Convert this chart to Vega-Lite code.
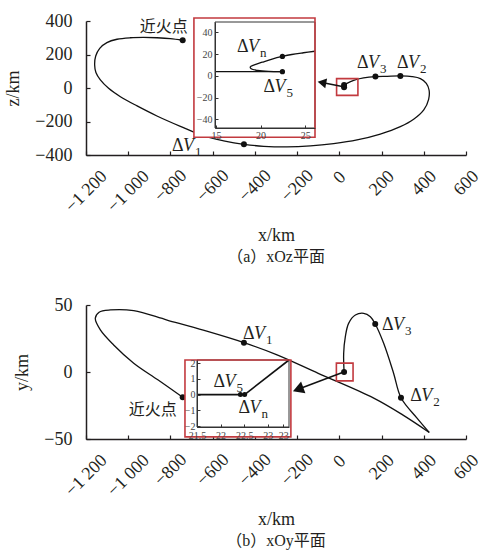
{
  "$schema": "https://vega.github.io/schema/vega-lite/v6.json",
  "padding": {"left": 4, "top": 12, "right": 2, "bottom": 2},
  "background": "white",
  "config": {"view": {"stroke": null}, "font": "Liberation Serif", "axis": {"grid": false}},
  "spacing": 31,
  "datasets": {
    "a_path": [
      {"i":1,"x":-742,"v":285},{"i":2,"x":-801,"v":295},{"i":3,"x":-864,"v":300},{"i":4,"x":-927,"v":302},
      {"i":5,"x":-990,"v":300},{"i":6,"x":-1053,"v":291},{"i":7,"x":-1101,"v":271},{"i":8,"x":-1135,"v":237},
      {"i":9,"x":-1154,"v":191},{"i":10,"x":-1159,"v":137},{"i":11,"x":-1153,"v":92},{"i":12,"x":-1132,"v":48},
      {"i":13,"x":-1093,"v":-2},{"i":14,"x":-1037,"v":-52},{"i":15,"x":-958,"v":-107},{"i":16,"x":-864,"v":-167},
      {"i":17,"x":-753,"v":-229},{"i":18,"x":-643,"v":-286},{"i":19,"x":-548,"v":-315},{"i":20,"x":-452,"v":-336},
      {"i":21,"x":-358,"v":-348},{"i":22,"x":-248,"v":-352},{"i":23,"x":-137,"v":-346},{"i":24,"x":-27,"v":-332},
      {"i":25,"x":84,"v":-310},{"i":26,"x":194,"v":-275},{"i":27,"x":289,"v":-231},{"i":28,"x":352,"v":-187},
      {"i":29,"x":400,"v":-131},{"i":30,"x":423,"v":-68},{"i":31,"x":425,"v":-12},{"i":32,"x":412,"v":28},
      {"i":33,"x":384,"v":56},{"i":34,"x":344,"v":68},{"i":35,"x":289,"v":72},{"i":36,"x":226,"v":70},
      {"i":37,"x":171,"v":68},{"i":38,"x":115,"v":60},{"i":39,"x":68,"v":46},{"i":40,"x":36,"v":28},
      {"i":41,"x":22.5,"v":17.5}
    ],
    "a_pts": [
      {"x":-742,"v":285},{"x":-452,"v":-336},{"x":289,"v":72},{"x":171,"v":68},{"x":22.5,"v":17.5},{"x":22.5,"v":4}
    ],
    "a_lab": [
      {"x":-793,"v":-374,"s":"1"},{"x":273,"v":117.6,"s":"2"},{"x":83.7,"v":117.6,"s":"3"}
    ],
    "a_cn": [{"x":-832,"v":364,"t":"近火点"}],
    "a_box": [{"x":-13,"x2":88,"v":-44,"v2":56}],
    "a_arrow": [{"x":20,"v":8,"x2":-82.5,"v2":32.2}],
    "a_ibox": [{"x":12.54,"x2":26.1,"v":-56.5,"v2":53.2}],
    "a_iframe": [{"x":14.9,"x2":26.1,"v":-48,"v2":49.5}],
    "a_ipath": [
      {"seg":"c","i":1,"x":26.08,"v":22.6},{"seg":"c","i":2,"x":24.8,"v":21.2},{"seg":"c","i":3,"x":23.5,"v":19.6},
      {"seg":"c","i":4,"x":22.45,"v":17.8},{"seg":"c","i":5,"x":21.3,"v":15.4},{"seg":"c","i":6,"x":20.2,"v":12.5},
      {"seg":"c","i":7,"x":19.3,"v":10},{"seg":"c","i":8,"x":18.85,"v":8.2},{"seg":"c","i":9,"x":18.95,"v":6.5},
      {"seg":"c","i":10,"x":19.7,"v":4.9},{"seg":"c","i":11,"x":20.9,"v":4.0},{"seg":"c","i":12,"x":22.45,"v":3.8},
      {"seg":"h","i":13,"x":14.9,"v":3.8},{"seg":"h","i":14,"x":22.45,"v":3.8}
    ],
    "a_ipts": [{"x":22.45,"v":17.8},{"x":22.45,"v":3.8}],
    "a_ilab": [{"x":17.35,"v":22.1,"s":"n"},{"x":20.34,"v":-15.3,"s":"5"}],
    "b_path": [
      {"seg":"p","i":1,"x":-742,"v":-18.8},{"seg":"p","i":2,"x":-858,"v":-6},{"seg":"p","i":3,"x":-974,"v":6.6},
      {"seg":"p","i":4,"x":-1069,"v":20.2},{"seg":"p","i":5,"x":-1132,"v":31.4},{"seg":"p","i":6,"x":-1156,"v":40.1},
      {"seg":"p","i":7,"x":-1138,"v":44.6},{"seg":"p","i":8,"x":-1085,"v":46.3},{"seg":"p","i":9,"x":-974,"v":45.8},
      {"seg":"p","i":10,"x":-816,"v":38.8},{"seg":"p","i":11,"x":-640,"v":31},{"seg":"p","i":12,"x":-452,"v":21.9},
      {"seg":"p","i":13,"x":-295,"v":12.8},{"seg":"p","i":14,"x":-100,"v":-1},{"seg":"p","i":15,"x":163,"v":-19.5},
      {"seg":"p","i":16,"x":300,"v":-32},{"seg":"p","i":17,"x":426,"v":-45.1},
      {"seg":"q","i":18,"x":426,"v":-45.1},{"seg":"q","i":19,"x":368,"v":-34.4},{"seg":"q","i":20,"x":292,"v":-19.2},
      {"seg":"q","i":21,"x":257,"v":-0.9},{"seg":"q","i":22,"x":210,"v":21.4},{"seg":"q","i":23,"x":170,"v":35.8},
      {"seg":"q","i":24,"x":147,"v":41.3},{"seg":"q","i":25,"x":115,"v":43.8},{"seg":"q","i":26,"x":76,"v":42.5},
      {"seg":"q","i":27,"x":44,"v":36.3},{"seg":"q","i":28,"x":28.5,"v":26.4},{"seg":"q","i":29,"x":20.6,"v":14},
      {"seg":"q","i":30,"x":22.5,"v":0}
    ],
    "b_pts": [
      {"x":-742,"v":-18.8},{"x":-452,"v":21.9},{"x":292,"v":-19.2},{"x":170,"v":35.8},{"x":22.5,"v":0}
    ],
    "b_lab": [
      {"x":-456,"v":24.5,"s":"1"},{"x":336,"v":-21.3,"s":"2"},{"x":202,"v":31.4,"s":"3"}
    ],
    "b_cn": [{"x":-884,"v":-28.2,"t":"近火点"}],
    "b_box": [{"x":-14,"x2":65,"v":-6.6,"v2":6.6}],
    "b_arrow": [{"x":21,"v":0,"x2":-195.3,"v2":-12.9}],
    "b_ibox": [{"x":21.245,"x2":23.49,"v":-2.69,"v2":2.2}],
    "b_iframe": [{"x":21.5,"x2":23.45,"v":-2.06,"v2":2.2}],
    "b_ipath": [
      {"seg":"h","i":1,"x":21.5,"v":0},{"seg":"h","i":2,"x":22.51,"v":0},
      {"seg":"l","i":3,"x":22.51,"v":0},{"seg":"l","i":4,"x":23.45,"v":2.2}
    ],
    "b_ipts": [{"x":22.42,"v":0},{"x":22.51,"v":0}],
    "b_ilab": [{"x":21.85,"v":0.47,"s":"5"},{"x":22.38,"v":-1.2,"s":"n"}]
  },
  "vconcat": [
    {
      "width": 380, "height": 134,
      "title": {"text": "（a）xOz平面", "orient": "bottom", "offset": 4, "fontSize": 16, "font": "Liberation Serif, Noto Sans CJK SC", "fontWeight": "normal", "color": "#231f20", "anchor": "middle"},
      "resolve": {"scale": {"x": "independent", "y": "independent"}},
      "layer": [
        {
          "encoding": {
            "x": {"field": "x", "type": "quantitative", "scale": {"domain": [-1200, 600], "nice": false, "zero": false},
              "axis": {"orient": "bottom", "values": [-1200,-1000,-800,-600,-400,-200,0,200,400,600],
                "labelExpr": "replace(format(datum.value, ','), ',', ' ')",
                "labelAngle": -45, "labelAlign": "center", "labelBaseline": "middle",
                "labelFlush": false, "labelOverlap": false, "labelBound": false,
                "labelFontSize": 18, "labelColor": "#231f20", "labelFont": "Liberation Serif",
                "tickSize": -4, "tickColor": "#231f20", "tickWidth": 1.2, "domainColor": "#231f20", "domainWidth": 1.5,
                "title": "x/km", "titleFontSize": 18, "titleFont": "Liberation Serif", "titleFontWeight": "normal", "titleColor": "#231f20", "titlePadding": 11,
                "encoding": {"labels": {"y": {"value": {"expr": "19.5 + 2.8*length(datum.label)"}}}}}},
            "y": {"field": "v", "type": "quantitative", "scale": {"domain": [-400, 400], "nice": false, "zero": false},
              "axis": {"orient": "left", "values": [-400,-200,0,200,400], "labelFlush": false, "labelOverlap": false,
                "labelFontSize": 18, "labelColor": "#231f20", "labelFont": "Liberation Serif", "labelPadding": 18,
                "tickSize": -4, "tickColor": "#231f20", "tickWidth": 1.2, "domainColor": "#231f20", "domainWidth": 1.5,
                "title": "z/km", "titleFontSize": 18, "titleFont": "Liberation Serif", "titleFontWeight": "normal", "titleColor": "#231f20", "titlePadding": 12}}
          },
          "layer": [
            {"data": {"name": "a_path"}, "mark": {"type": "line", "interpolate": "catmull-rom", "color": "#111111", "strokeWidth": 1.3}, "encoding": {"order": {"field": "i", "type": "quantitative"}}},
            {"data": {"name": "a_box"}, "mark": {"type": "rect", "fillOpacity": 0, "stroke": "#c23a3f", "strokeWidth": 1.6}, "encoding": {"x2": {"field": "x2"}, "y2": {"field": "v2"}}},
            {"data": {"name": "a_arrow"}, "mark": {"type": "rule", "color": "#111111", "strokeWidth": 1.5}, "encoding": {"x2": {"field": "x2"}, "y2": {"field": "v2"}}},
            {"data": {"name": "a_arrow"}, "mark": {"type": "point", "shape": "triangle-left", "filled": true, "color": "#111111", "size": 100, "angle": 10.6, "opacity": 1}, "encoding": {"x": {"field": "x2", "type": "quantitative"}, "y": {"field": "v2", "type": "quantitative"}}},
            {"data": {"name": "a_pts"}, "mark": {"type": "point", "filled": true, "color": "#111111", "size": 36, "opacity": 1}},
            {"data": {"name": "a_lab"}, "mark": {"type": "text", "text": "Δ", "align": "left", "baseline": "alphabetic", "fontSize": 18, "color": "#231f20"}},
            {"data": {"name": "a_lab"}, "mark": {"type": "text", "text": "V", "align": "left", "baseline": "alphabetic", "fontSize": 18, "fontStyle": "italic", "dx": 11, "color": "#231f20"}},
            {"data": {"name": "a_lab"}, "mark": {"type": "text", "align": "left", "baseline": "alphabetic", "fontSize": 13, "dx": 23, "dy": 5, "color": "#231f20"}, "encoding": {"text": {"field": "s"}}},
            {"data": {"name": "a_cn"}, "mark": {"type": "text", "align": "center", "baseline": "middle", "fontSize": 16, "font": "Noto Sans CJK SC", "color": "#231f20"}, "encoding": {"text": {"field": "t"}}}
          ]
        },
        {
          "encoding": {
            "x": {"field": "x", "type": "quantitative", "scale": {"domain": [14.9, 26.1], "range": [129, 229], "nice": false, "zero": false},
              "axis": {"orient": "bottom", "offset": -27, "values": [15, 20, 25], "tickSize": -3, "labelPadding": 5, "labelFontSize": 10, "labelColor": "#444444", "labelFont": "Liberation Serif", "labelFlush": false, "labelOverlap": false, "domainColor": "#333333", "domainWidth": 1, "tickColor": "#333333", "title": null, "zindex": 1}},
            "y": {"field": "v", "type": "quantitative", "scale": {"domain": [-48, 49.5], "range": [107, 1], "nice": false, "zero": false},
              "axis": {"orient": "left", "offset": -129, "values": [-40, -20, 0, 20, 40], "tickSize": -3, "labelPadding": 6, "labelFontSize": 10, "labelColor": "#444444", "labelFont": "Liberation Serif", "labelFlush": false, "labelOverlap": false, "domainColor": "#333333", "domainWidth": 1, "tickColor": "#333333", "title": null, "zindex": 1}}
          },
          "layer": [
            {"data": {"name": "a_ibox"}, "mark": {"type": "rect", "fill": "white", "strokeWidth": 0}, "encoding": {"x2": {"field": "x2"}, "y2": {"field": "v2"}}},
            {"data": {"name": "a_iframe"}, "mark": {"type": "rect", "fillOpacity": 0, "stroke": "#333333", "strokeWidth": 1}, "encoding": {"x2": {"field": "x2"}, "y2": {"field": "v2"}}},
            {"data": {"name": "a_ipath"}, "mark": {"type": "line", "interpolate": "catmull-rom", "color": "#111111", "strokeWidth": 1.3}, "encoding": {"detail": {"field": "seg"}, "order": {"field": "i", "type": "quantitative"}}},
            {"data": {"name": "a_ipts"}, "mark": {"type": "point", "filled": true, "color": "#111111", "size": 28, "opacity": 1}},
            {"data": {"name": "a_ilab"}, "mark": {"type": "text", "text": "Δ", "align": "left", "baseline": "alphabetic", "fontSize": 18, "color": "#231f20"}},
            {"data": {"name": "a_ilab"}, "mark": {"type": "text", "text": "V", "align": "left", "baseline": "alphabetic", "fontSize": 18, "fontStyle": "italic", "dx": 11, "color": "#231f20"}},
            {"data": {"name": "a_ilab"}, "mark": {"type": "text", "align": "left", "baseline": "alphabetic", "fontSize": 13, "dx": 23, "dy": 5, "color": "#231f20"}, "encoding": {"text": {"field": "s"}}},
            {"data": {"name": "a_ibox"}, "mark": {"type": "rect", "fillOpacity": 0, "stroke": "#c23a3f", "strokeWidth": 1.6}, "encoding": {"x2": {"field": "x2"}, "y2": {"field": "v2"}}}
          ]
        }
      ]
    },
    {
      "width": 380, "height": 134,
      "title": {"text": "（b）xOy平面", "orient": "bottom", "offset": 4, "fontSize": 16, "font": "Liberation Serif, Noto Sans CJK SC", "fontWeight": "normal", "color": "#231f20", "anchor": "middle"},
      "resolve": {"scale": {"x": "independent", "y": "independent"}},
      "layer": [
        {
          "encoding": {
            "x": {"field": "x", "type": "quantitative", "scale": {"domain": [-1200, 600], "nice": false, "zero": false},
              "axis": {"orient": "bottom", "values": [-1200,-1000,-800,-600,-400,-200,0,200,400,600],
                "labelExpr": "replace(format(datum.value, ','), ',', ' ')",
                "labelAngle": -45, "labelAlign": "center", "labelBaseline": "middle",
                "labelFlush": false, "labelOverlap": false, "labelBound": false,
                "labelFontSize": 18, "labelColor": "#231f20", "labelFont": "Liberation Serif",
                "tickSize": -4, "tickColor": "#231f20", "tickWidth": 1.2, "domainColor": "#231f20", "domainWidth": 1.5,
                "title": "x/km", "titleFontSize": 18, "titleFont": "Liberation Serif", "titleFontWeight": "normal", "titleColor": "#231f20", "titlePadding": 11,
                "encoding": {"labels": {"y": {"value": {"expr": "19.5 + 2.8*length(datum.label)"}}}}}},
            "y": {"field": "v", "type": "quantitative", "scale": {"domain": [-50, 50], "nice": false, "zero": false},
              "axis": {"orient": "left", "values": [-50, 0, 50], "labelFlush": false, "labelOverlap": false,
                "labelFontSize": 18, "labelColor": "#231f20", "labelFont": "Liberation Serif", "labelPadding": 18,
                "tickSize": -4, "tickColor": "#231f20", "tickWidth": 1.2, "domainColor": "#231f20", "domainWidth": 1.5,
                "title": "y/km", "titleFontSize": 18, "titleFont": "Liberation Serif", "titleFontWeight": "normal", "titleColor": "#231f20", "titlePadding": 12}}
          },
          "layer": [
            {"data": {"name": "b_path"}, "mark": {"type": "line", "interpolate": "catmull-rom", "color": "#111111", "strokeWidth": 1.3}, "encoding": {"detail": {"field": "seg"}, "order": {"field": "i", "type": "quantitative"}}},
            {"data": {"name": "b_box"}, "mark": {"type": "rect", "fillOpacity": 0, "stroke": "#c23a3f", "strokeWidth": 1.6}, "encoding": {"x2": {"field": "x2"}, "y2": {"field": "v2"}}},
            {"data": {"name": "b_arrow"}, "mark": {"type": "rule", "color": "#111111", "strokeWidth": 1.5}, "encoding": {"x2": {"field": "x2"}, "y2": {"field": "v2"}}},
            {"data": {"name": "b_arrow"}, "mark": {"type": "point", "shape": "triangle-left", "filled": true, "color": "#111111", "size": 160, "angle": -20, "opacity": 1}, "encoding": {"x": {"field": "x2", "type": "quantitative"}, "y": {"field": "v2", "type": "quantitative"}}},
            {"data": {"name": "b_pts"}, "mark": {"type": "point", "filled": true, "color": "#111111", "size": 36, "opacity": 1}},
            {"data": {"name": "b_lab"}, "mark": {"type": "text", "text": "Δ", "align": "left", "baseline": "alphabetic", "fontSize": 18, "color": "#231f20"}},
            {"data": {"name": "b_lab"}, "mark": {"type": "text", "text": "V", "align": "left", "baseline": "alphabetic", "fontSize": 18, "fontStyle": "italic", "dx": 11, "color": "#231f20"}},
            {"data": {"name": "b_lab"}, "mark": {"type": "text", "align": "left", "baseline": "alphabetic", "fontSize": 13, "dx": 23, "dy": 5, "color": "#231f20"}, "encoding": {"text": {"field": "s"}}},
            {"data": {"name": "b_cn"}, "mark": {"type": "text", "align": "center", "baseline": "middle", "fontSize": 16, "font": "Noto Sans CJK SC", "color": "#231f20"}, "encoding": {"text": {"field": "t"}}}
          ]
        },
        {
          "encoding": {
            "x": {"field": "x", "type": "quantitative", "scale": {"domain": [21.5, 23.45], "range": [111, 203], "nice": false, "zero": false},
              "axis": {"orient": "bottom", "offset": -12, "values": [21.5, 22, 22.5, 23, 23.33], "labelExpr": "datum.value > 23.2 ? '23' : toString(datum.value)", "tickSize": -3, "labelPadding": 6, "labelFontSize": 10, "labelColor": "#444444", "labelFont": "Liberation Serif", "labelFlush": false, "labelOverlap": false, "domainColor": "#333333", "domainWidth": 1, "tickColor": "#333333", "title": null, "zindex": 1}},
            "y": {"field": "v", "type": "quantitative", "scale": {"domain": [-2.06, 2.2], "range": [122, 55], "nice": false, "zero": false},
              "axis": {"orient": "left", "offset": -111, "values": [-2, -1, 0, 1, 2], "tickSize": -3, "labelPadding": 5, "labelFontSize": 10, "labelColor": "#444444", "labelFont": "Liberation Serif", "labelFlush": false, "labelOverlap": false, "domainColor": "#333333", "domainWidth": 1, "tickColor": "#333333", "title": null, "zindex": 1}}
          },
          "layer": [
            {"data": {"name": "b_ibox"}, "mark": {"type": "rect", "fill": "white", "strokeWidth": 0}, "encoding": {"x2": {"field": "x2"}, "y2": {"field": "v2"}}},
            {"data": {"name": "b_iframe"}, "mark": {"type": "rect", "fillOpacity": 0, "stroke": "#333333", "strokeWidth": 1}, "encoding": {"x2": {"field": "x2"}, "y2": {"field": "v2"}}},
            {"data": {"name": "b_ipath"}, "mark": {"type": "line", "color": "#111111", "strokeWidth": 1.6}, "encoding": {"detail": {"field": "seg"}, "order": {"field": "i", "type": "quantitative"}}},
            {"data": {"name": "b_ipts"}, "mark": {"type": "point", "filled": true, "color": "#111111", "size": 25, "opacity": 1}},
            {"data": {"name": "b_ilab"}, "mark": {"type": "text", "text": "Δ", "align": "left", "baseline": "alphabetic", "fontSize": 18, "color": "#231f20"}},
            {"data": {"name": "b_ilab"}, "mark": {"type": "text", "text": "V", "align": "left", "baseline": "alphabetic", "fontSize": 18, "fontStyle": "italic", "dx": 11, "color": "#231f20"}},
            {"data": {"name": "b_ilab"}, "mark": {"type": "text", "align": "left", "baseline": "alphabetic", "fontSize": 13, "dx": 23, "dy": 5, "color": "#231f20"}, "encoding": {"text": {"field": "s"}}},
            {"data": {"name": "b_ibox"}, "mark": {"type": "rect", "fillOpacity": 0, "stroke": "#c23a3f", "strokeWidth": 1.6}, "encoding": {"x2": {"field": "x2"}, "y2": {"field": "v2"}}}
          ]
        }
      ]
    }
  ]
}
